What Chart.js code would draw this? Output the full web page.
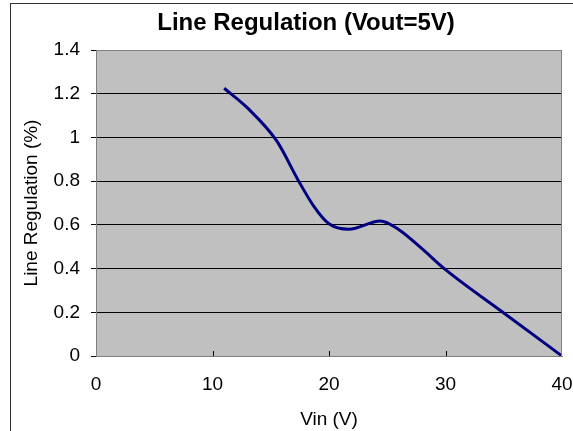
<!DOCTYPE html>
<html>
<head>
<meta charset="utf-8">
<script src="https://cdn.jsdelivr.net/npm/chart.js@4/dist/chart.umd.min.js"></script>
<style>
  html, body { margin: 0; padding: 0; background: #fff; }
  #wrap { width: 573px; height: 431px; position: relative; }
  canvas { display: block; }
</style>
</head>
<body>
<div id="wrap"><canvas id="chart" width="573" height="431"></canvas></div>
<script>
// values
const vin = [11, 13, 15.5, 17.4, 18.7, 20, 21.7, 24.4, 26, 28, 30, 35, 40];
const lineReg = [1.225, 1.135, 0.985, 0.8, 0.685, 0.605, 0.58, 0.618, 0.578, 0.49, 0.395, 0.197, 0];
const xTicks = [0, 10, 20, 30, 40];
const yTicks = [0, 0.2, 0.4, 0.6, 0.8, 1, 1.2, 1.4];

const FONT = "Arial, 'Liberation Sans', sans-serif";

// gray plot area, frame around the picture, inward ticks on x
const plotDecor = {
  id: "plotDecor",
  beforeDraw(chart) {
    const { ctx, chartArea: a } = chart;
    ctx.save();
    ctx.fillStyle = "#c0c0c0";
    ctx.fillRect(a.left, a.top, a.right - a.left, a.bottom - a.top);
    ctx.strokeStyle = "#333";
    ctx.lineWidth = 1;
    ctx.strokeRect(10.5, 3.5, 700, 600);
    ctx.restore();
  },
  afterDatasetsDraw(chart) {
    const { ctx, chartArea: a, scales } = chart;
    ctx.save();
    ctx.strokeStyle = "#808080";
    ctx.lineWidth = 1;
    ctx.strokeRect(a.left + 0.5, a.top + 0.5, a.right - a.left - 1, a.bottom - a.top);
    ctx.strokeStyle = "#000";
    xTicks.slice(1, -1).forEach((v) => {
      const px = Math.round(scales.x.getPixelForValue(v)) + 0.5;
      ctx.beginPath();
      ctx.moveTo(px, a.bottom);
      ctx.lineTo(px, a.bottom - 5);
      ctx.stroke();
    });
    ctx.restore();
  },
};

new Chart(document.getElementById("chart"), {
  type: "line",
  plugins: [plotDecor],
  data: {
    datasets: [
      {
        data: vin.map((x, i) => ({ x, y: lineReg[i] })),
        borderColor: "#000080",
        borderWidth: 3,
        pointRadius: 0,
        fill: false,
        cubicInterpolationMode: "monotone",
      },
    ],
  },
  options: {
    responsive: false,
    animation: false,
    devicePixelRatio: 1,
    // left padding pushes the title centre to the right, as in the original
    layout: { padding: { left: 50, right: 11, top: 0, bottom: 0 } },
    plugins: {
      legend: { display: false },
      tooltip: { enabled: false },
      title: {
        display: true,
        text: "Line Regulation (Vout=5V)",
        color: "#000",
        font: { family: FONT, size: 24, weight: "bold" },
        padding: { top: 9, bottom: 12.2 },
      },
    },
    scales: {
      x: {
        type: "linear",
        min: 0,
        max: 40,
        afterFit: (s) => { s.height = 75; s.paddingLeft = 0; s.paddingRight = 0; },
        afterBuildTicks: (s) => { s.ticks = xTicks.map((v) => ({ value: v })); },
        grid: { display: false, drawTicks: false },
        border: { display: true, color: "#808080" },
        ticks: { color: "#000", padding: 17, autoSkip: false, maxRotation: 0, font: { family: FONT, size: 19 } },
        title: {
          display: true,
          text: "Vin (V)",
          color: "#000",
          font: { family: FONT, size: 19 },
          padding: { top: 7, bottom: 0 },
        },
      },
      y: {
        min: 0,
        max: 1.4,
        afterFit: (s) => { s.width = 46; s.paddingTop = 0; s.paddingBottom = 0; },
        afterBuildTicks: (s) => { s.ticks = yTicks.map((v) => ({ value: v })); },
        grid: {
          color: (c) => (c.tick && (c.tick.value === 0 || c.tick.value === 1.4) ? "rgba(0,0,0,0)" : "#000"),
          tickColor: "#000",
          tickLength: 5,
        },
        border: { display: true, color: "#808080" },
        ticks: {
          color: "#000",
          padding: 11,
          autoSkip: false,
          font: { family: FONT, size: 19 },
          callback: (v) => String(v),
        },
        title: {
          display: true,
          text: "Line Regulation (%)",
          color: "#000",
          font: { family: FONT, size: 19 },
          padding: { top: -30, bottom: 0 },
        },
      },
    },
  },
});
</script>
</body>
</html>
